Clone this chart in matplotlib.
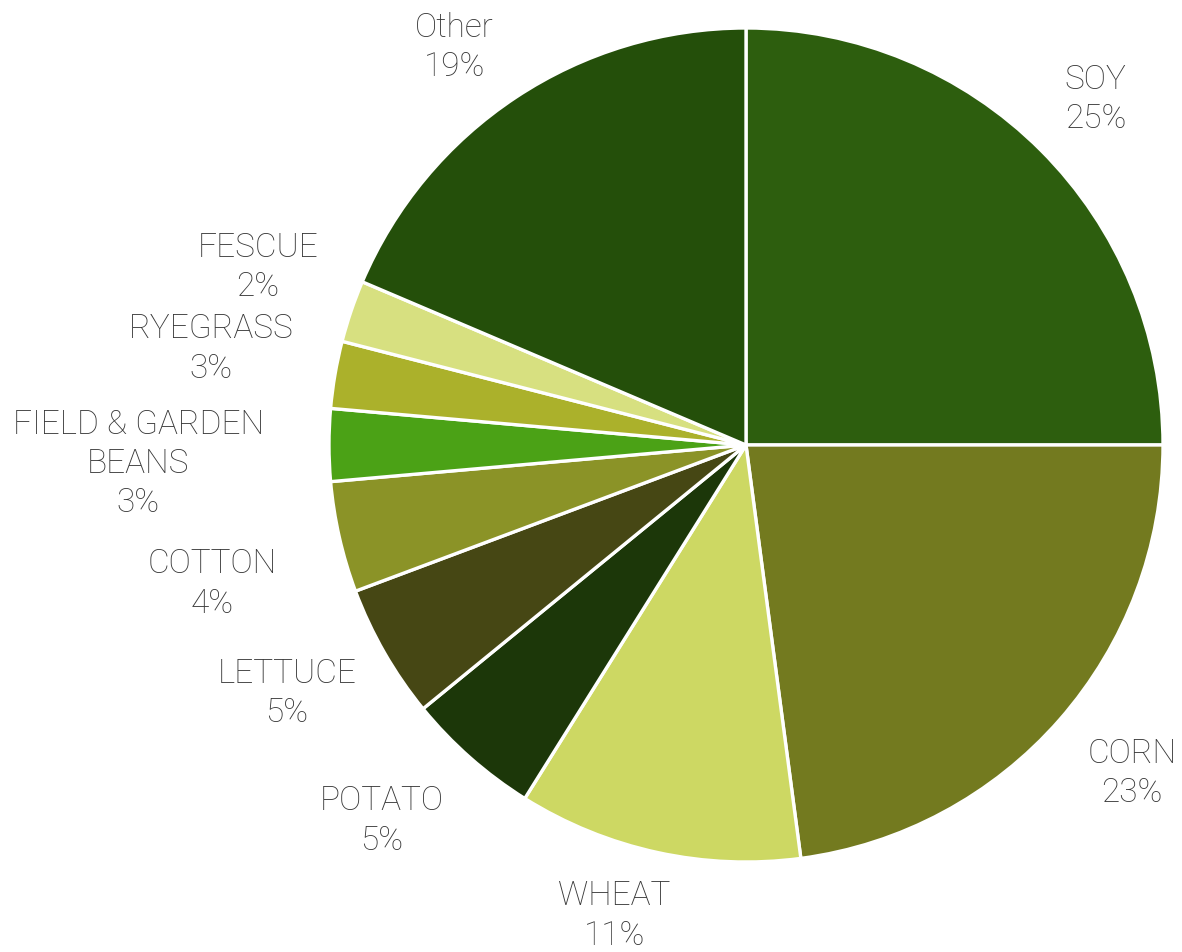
import numpy as np
import matplotlib
matplotlib.use("Agg")
from matplotlib import pyplot as plt

# crop share data, clockwise from 12 o'clock
crops = ["SOY", "CORN", "WHEAT", "POTATO", "LETTUCE", "COTTON",
         "FIELD & GARDEN\nBEANS", "RYEGRASS", "FESCUE", "Other"]
shares = [25.0, 22.9, 11.0, 5.2, 5.2, 4.3, 2.8, 2.6, 2.4, 18.6]
colors = ["#2D5E0E", "#737A1F", "#CDD863", "#1C3709", "#464714",
          "#8B9327", "#4BA216", "#ABB12B", "#D7E080", "#244F0A"]
# label placement: distance out (pie radii) and nudge from the wedge middle (degrees)
labelDist = [1.185, 1.209, 1.163, 1.248, 1.247, 1.321, 1.458, 1.305, 1.249, 1.19]
labelShift = [0.0, -1.2, 3.5, 3.0, 1.9, -1.4, -1.4, 0.9, 1.7, -2.5]

fig = plt.figure(figsize=(11.82, 9.52), dpi=100)
ax = fig.add_axes([329 / 1182, 90 / 952, 834 / 1182, 834 / 952])

wedges, _ = ax.pie(shares, colors=colors, startangle=90, counterclock=False,
                   radius=1, wedgeprops={"edgecolor": "white", "linewidth": 2.4})
ax.set_xlim(-1, 1)
ax.set_ylim(-1, 1)
ax.set_aspect("equal")
ax.axis("off")

total = sum(shares)
cum = 0
for name, val, dist, shift in zip(crops, shares, labelDist, labelShift):
    mid = (cum + val / 2) / total * 2 * np.pi + np.radians(shift)
    cum += val
    x = dist * np.sin(mid)
    y = dist * np.cos(mid) - 0.01
    ax.text(x, y, f"{name}\n{val:.0f}%", ha="center", va="center",
            multialignment="center", fontsize=24, family="Roboto",
            fontweight="light", color="#383838", linespacing=1.29, clip_on=False)

fig.savefig("out.png", dpi=100)
plt.close(fig)
